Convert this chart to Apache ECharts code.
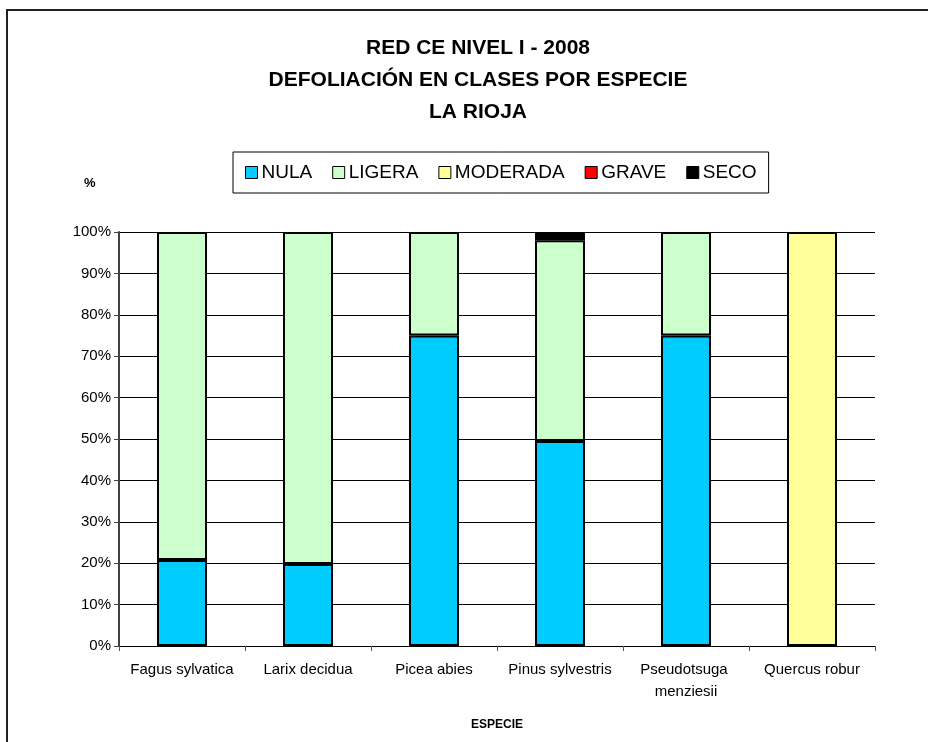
<!DOCTYPE html>
<html>
<head>
<meta charset="utf-8">
<script src="https://cdn.jsdelivr.net/npm/echarts@6/dist/echarts.min.js"></script>
<style>html,body{margin:0;padding:0;background:#fff;}#c{width:928px;height:742px;}</style>
</head>
<body>
<div id="c"></div>
<script>
const categories = ['Fagus sylvatica', 'Larix decidua', 'Picea abies', 'Pinus sylvestris', 'Pseudotsuga menziesii', 'Quercus robur'];
const nula = [20.8, 19.8, 75, 49.5, 75, null];
const ligera = [79.2, 80.2, 25, 48.5, 25, null];
const moderada = [null, null, null, null, null, 100];
const grave = [null, null, null, null, null, null];
const seco = [null, null, null, 2, null, null];
const yTicks = [0, 10, 20, 30, 40, 50, 60, 70, 80, 90, 100];

const font = 'Liberation Sans, Arial, sans-serif';
const chart = echarts.init(document.getElementById('c'));
function s(name, data, color) {
  return {
    name: name, type: 'bar', stack: 'total', data: data, barWidth: 50,
    itemStyle: { color: color, borderColor: '#000', borderWidth: 2 },
    emphasis: { disabled: true }
  };
}
chart.setOption({
  animation: false,
  backgroundColor: '#fff',
  title: {
    text: 'RED CE NIVEL I - 2008\nDEFOLIACIÓN EN CLASES POR ESPECIE\nLA RIOJA',
    left: 473, top: 27,
    textAlign: 'center',
    textStyle: { fontFamily: font, fontSize: 21, fontWeight: 'bold', color: '#000', lineHeight: 32, align: 'center' }
  },
  legend: {
    left: 233, top: 152,
    padding: [11, 12, 11, 12],
    borderColor: '#000', borderWidth: 1,
    itemWidth: 12, itemHeight: 12, itemGap: 20,
    icon: 'rect',
    selectedMode: false,
    textStyle: { fontFamily: font, fontSize: 19, color: '#000', padding: [0, 0, 0, -1] },
    itemStyle: { borderColor: '#000', borderWidth: 1 }
  },
  grid: { left: 119, right: 53, top: 232, bottom: 96 },
  xAxis: {
    type: 'category', data: categories,
    name: 'ESPECIE', nameLocation: 'middle', nameGap: 73,
    nameTextStyle: { fontFamily: font, fontSize: 12, fontWeight: 'bold', color: '#000' },
    axisLine: { lineStyle: { color: '#000', width: 1 } },
    axisTick: { show: true, length: 5, lineStyle: { color: '#555' } },
    axisLabel: { interval: 0, fontFamily: font, fontSize: 15, color: '#000', margin: 13, width: 120, overflow: 'break', lineHeight: 22 }
  },
  yAxis: {
    type: 'value', min: 0, max: 100, interval: 10,
    axisLine: { show: true, lineStyle: { color: '#404040', width: 2 } },
    axisTick: { show: true, length: 5, lineStyle: { color: '#404040' } },
    axisLabel: { fontFamily: font, fontSize: 15, color: '#000', margin: 8, formatter: function (v) { return yTicks.indexOf(v) >= 0 ? v + '%' : ''; } },
    splitLine: { show: true, lineStyle: { color: '#000', width: 1 } }
  },
  graphic: [
    { type: 'rect', shape: { x: 7, y: 10, width: 1000, height: 1000 }, style: { fill: 'none', stroke: '#222', lineWidth: 2 }, silent: true },
    { type: 'text', left: 84, top: 177, style: { text: '%', font: 'bold 13px ' + font, fill: '#000' } }
  ],
  series: [
    s('NULA', nula, '#00CCFF'),
    s('LIGERA', ligera, '#CCFFCC'),
    s('MODERADA', moderada, '#FFFF99'),
    s('GRAVE', grave, '#FF0000'),
    s('SECO', seco, '#000000')
  ]
});
</script>
</body>
</html>
